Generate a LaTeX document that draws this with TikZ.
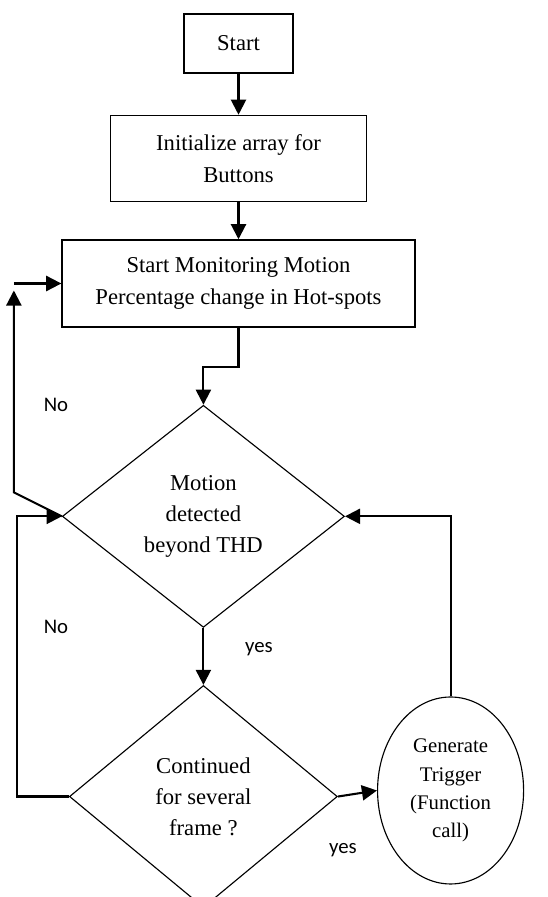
\documentclass[tikz,border=0pt]{standalone}
\usepackage{fontspec}
\setmainfont{Liberation Serif}
\newfontfamily\notefont{Carlito}
\usetikzlibrary{positioning,shapes.geometric,arrows.meta}

\tikzset{
  box/.style = {draw, line width=0.8pt, align=center, inner sep=0pt,
    font=\fontsize{12}{17}\selectfont},
  decision/.style = {draw, diamond, line width=0.6pt, align=center, inner sep=0pt,
    font=\fontsize{12}{16.4}\selectfont},
  arr/.style = {line width=1.1pt, -{Triangle[length=8pt,width=8pt]}},
  note/.style = {font=\notefont\fontsize{11}{13}\selectfont}
}

\begin{document}
\begin{tikzpicture}[x=0.53pt, y=0.53pt]
    \useasboundingbox (0,0) rectangle (547,-897);
    \node (start) [box, minimum width=57.8pt, minimum height=31.3pt] at (238.5,-43.5) {Start};
    \node (init) [box, below=21.7pt of start, minimum width=135.7pt, minimum height=45.6pt]
{Initialize array for\\Buttons};
    \node (mon) [box, below=19.6pt of init, minimum width=187pt, minimum height=46.1pt]
{Start Monitoring Motion\\Percentage change in Hot-spots};
    \node (motion) [decision, below=40.8pt of mon, xshift=-18.6pt, minimum width=149.5pt,
minimum height=117.7pt] {Motion\\detected\\beyond THD};
    \node (frames) [decision, below=30.2pt of motion, minimum width=142pt, minimum height=117.7pt]
{Continued\\for several\\frame ?};
    \node (trigger) [draw, ellipse, line width=0.6pt, right=20.7pt of frames, yshift=3.2pt,
minimum width=77.4pt, minimum height=99.1pt, inner sep=0pt, align=center,
font=\fontsize{11}{15}\selectfont] {Generate\\Trigger\\(Function\\call)};
    \draw[arr] (start) -- (init);
    \draw[arr] (init) -- (mon);
    \draw[arr] (mon.south) -- ++(0,-20.7pt) -| (motion.north);
    \draw[arr] (motion) -- (frames);
    \draw[arr] (frames.east) -- (trigger.west);
    \draw[arr] (trigger.north) |- (motion.east);
    % no motion: back to monitoring
    \draw[arr] (motion.west) -- ++(-25.4pt,12.7pt) coordinate (noturn)
-- ([yshift=-3.7pt]noturn |- mon.west);
    \draw[arr] (noturn |- mon.west) -- (mon.west);
    % not continued: back to the check
    \draw[arr] (frames.west) -- ++(-27.6pt,0) |- (motion.west);
    \node (no1) [note] at (56,-405) {No};
    \node (no2) [note] at (56,-627) {No};
    \node (yes1) [note] at (259,-649) {yes};
    \node (yes2) [note] at (343,-850) {yes};
  \end{tikzpicture}
\end{document}
